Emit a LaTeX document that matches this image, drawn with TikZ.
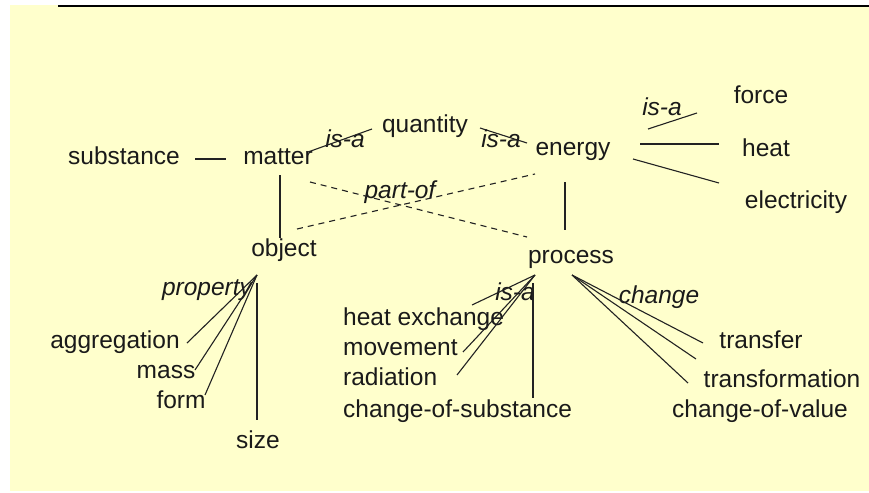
\documentclass[tikz,border=0pt]{standalone}
\usepackage{fontspec}
\setmainfont{Liberation Sans}
\definecolor{bgyellow}{HTML}{FFFFCC}
\definecolor{txt}{HTML}{1A1A1A}
\definecolor{ln}{HTML}{222222}
\begin{document}
\begin{tikzpicture}[x=1pt,y=-1pt,
  lbl/.style={anchor=base,inner sep=0pt,text=txt,font=\fontsize{24.5}{28}\selectfont},
  rel/.style={anchor=base,inner sep=0pt,text=txt,font=\fontsize{24.5}{28}\selectfont\itshape},
  edge/.style={draw=ln,line width=1.1pt},
  dedge/.style={draw=ln,line width=1.1pt,dash pattern=on 6pt off 5pt}]
\useasboundingbox (0,0) rectangle (869,492);
\fill[white] (0,0) rectangle (869,492);
\fill[bgyellow] (10,5) rectangle (869,491);
\draw[black,line width=2pt] (58,6) -- (869,6);
% concept nodes
\node[lbl] (substance) at (124,164) {substance};
\node[lbl] (matter) at (278,164) {matter};
\node[lbl] (quantity) at (425,132) {quantity};
\node[lbl] (energy) at (573,155) {energy};
\node[lbl] (object) at (284,256) {object};
\node[lbl] (process) at (571,263) {process};
\node[lbl] (force) at (761,103) {force};
\node[lbl] (heat) at (766,156) {heat};
\node[lbl] (electricity) at (796,208) {electricity};
\node[lbl] (aggregation) at (115,348) {aggregation};
\node[lbl] (mass) at (166,378) {mass};
\node[lbl] (form) at (181,408) {form};
\node[lbl] (size) at (258,448) {size};
\node[lbl,anchor=base west] (heatex) at (343,325) {heat exchange};
\node[lbl,anchor=base west] (movement) at (343,355) {movement};
\node[lbl,anchor=base west] (radiation) at (343,385) {radiation};
\node[lbl,anchor=base west] (cos) at (343,417) {change-of-substance};
\node[lbl] (transfer) at (761,348) {transfer};
\node[lbl] (transformation) at (782,387) {transformation};
\node[lbl] (cov) at (760,417) {change-of-value};
% relation labels
\node[rel] (isa1) at (345,147) {is-a};
\node[rel] (isa2) at (501,147) {is-a};
\node[rel] (isa3) at (662,115) {is-a};
\node[rel] (partof) at (400,198) {part-of};
\node[rel] (property) at (207,295) {property};
\node[rel] (isa4) at (515,300) {is-a};
\node[rel] (change) at (659,303) {change};
% connector end points
\coordinate (sA) at (195,159); \coordinate (sB) at (226,159);
\coordinate (mq1) at (308,152); \coordinate (mq2) at (372,129);
\coordinate (qe1) at (480,128); \coordinate (qe2) at (527,143);
\coordinate (mo1) at (280,175); \coordinate (mo2) at (280,238);
\coordinate (ep1) at (565,182); \coordinate (ep2) at (565,230);
\coordinate (mp1) at (310,182); \coordinate (mp2) at (527,237);
\coordinate (oe1) at (297,229); \coordinate (oe2) at (535,174);
\coordinate (ef1) at (648,129); \coordinate (ef2) at (697,113);
\coordinate (eh1) at (640,144); \coordinate (eh2) at (719,144);
\coordinate (ee1) at (633,159); \coordinate (ee2) at (719,183);
\coordinate (oapex) at (257,275);
\coordinate (oag) at (187,343); \coordinate (oma) at (195,370);
\coordinate (ofo) at (205,395);
\coordinate (osz1) at (257,283); \coordinate (osz2) at (257,420);
\coordinate (papex) at (535,275);
\coordinate (phe) at (472,305); \coordinate (pmo) at (463,352);
\coordinate (pra) at (457,375);
\coordinate (pcs1) at (533,283); \coordinate (pcs2) at (533,398);
\coordinate (capex) at (572,275);
\coordinate (ctr) at (703,343); \coordinate (ctf) at (696,359);
\coordinate (ccv) at (688,383);
% connectors
\draw[edge] (sA) -- (sB);
\draw[edge] (mq1) -- (mq2);
\draw[edge] (qe1) -- (qe2);
\draw[edge] (mo1) -- (mo2);
\draw[edge] (ep1) -- (ep2);
\draw[dedge] (mp1) -- (mp2);
\draw[dedge] (oe1) -- (oe2);
\draw[edge] (ef1) -- (ef2);
\draw[edge] (eh1) -- (eh2);
\draw[edge] (ee1) -- (ee2);
\draw[edge] (oapex) -- (oag);
\draw[edge] (oapex) -- (oma);
\draw[edge] (oapex) -- (ofo);
\draw[edge] (osz1) -- (osz2);
\draw[edge] (papex) -- (phe);
\draw[edge] (papex) -- (pmo);
\draw[edge] (papex) -- (pra);
\draw[edge] (pcs1) -- (pcs2);
\draw[edge] (capex) -- (ctr);
\draw[edge] (capex) -- (ctf);
\draw[edge] (capex) -- (ccv);
\end{tikzpicture}
\end{document}
